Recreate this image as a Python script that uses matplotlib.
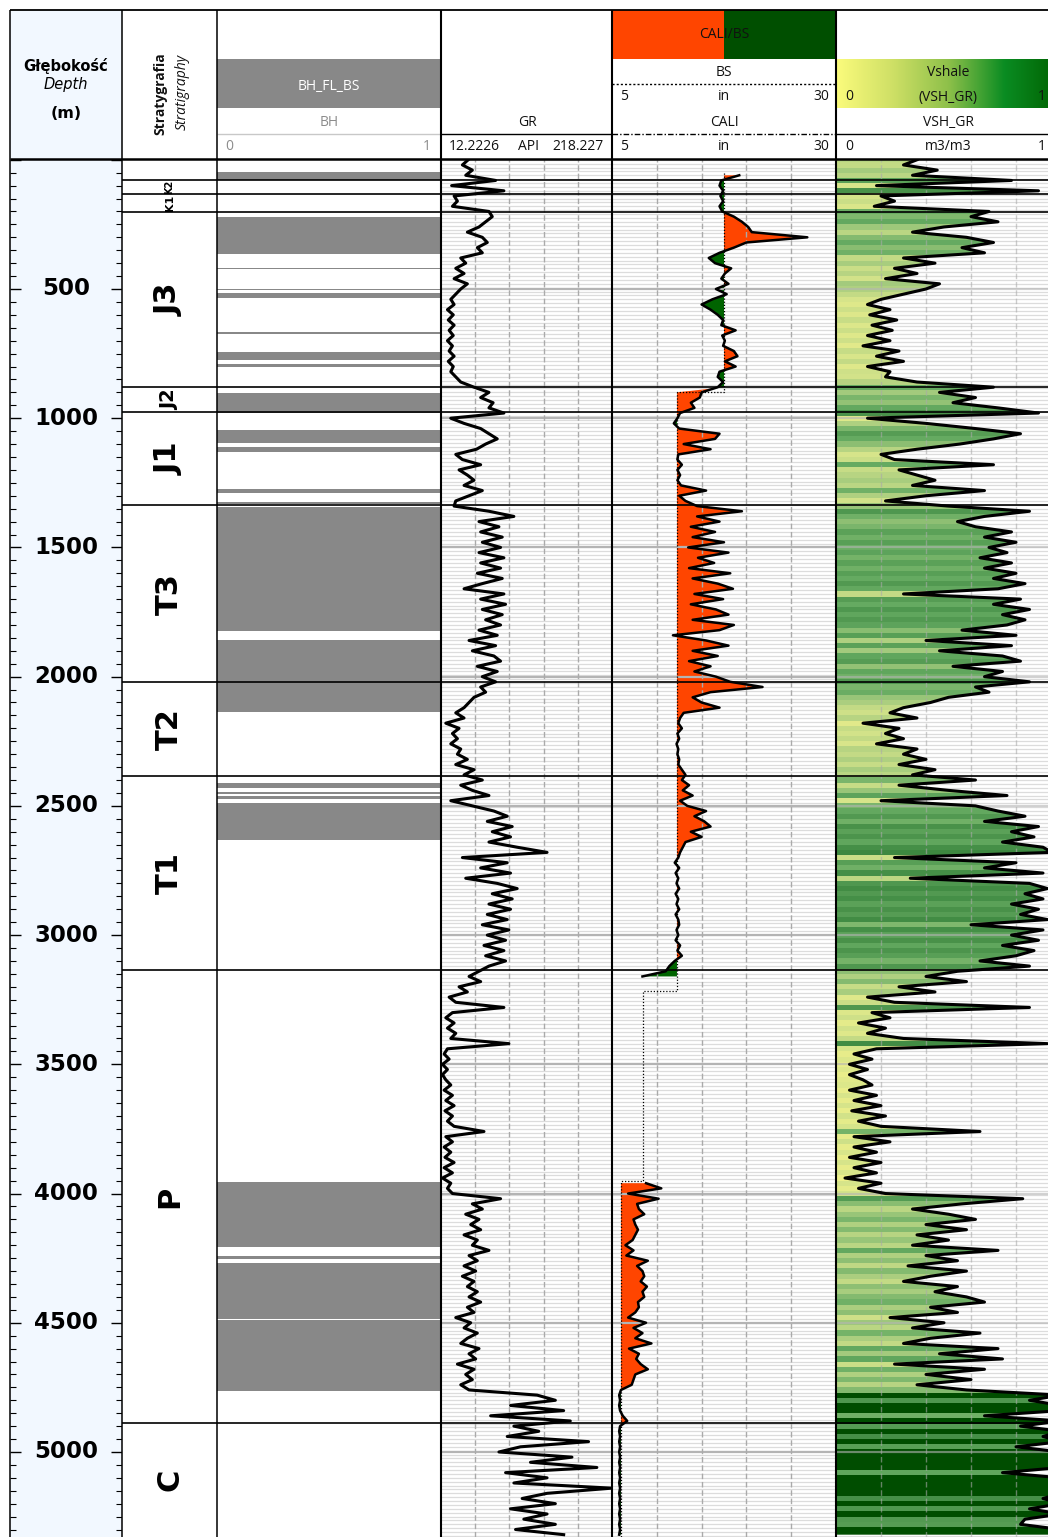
import numpy as np
import matplotlib.pyplot as plt
from matplotlib.colors import LinearSegmentedColormap
from matplotlib.patches import Rectangle
from matplotlib.ticker import MultipleLocator

nan = np.nan

# ---- krzywe, probkowanie co 20 m ----
STEP = 20
gr = [45, 38, 50, 42, 78, 25, 88, 28, 32, 26,
      70, 74, 66, 58, 44, 62, 68, 56, 62, 36,
      42, 30, 40, 28, 44, 36, 30, 24, 28, 20,
      27, 21, 28, 22, 27, 20, 26, 22, 28, 21,
      27, 24, 30, 36, 52, 70, 60, 75, 70, 88,
      24, 40, 60, 70, 80, 66, 55, 30, 38, 60,
      34, 44, 52, 40, 62, 46, 30, 28, 70, 100,
      58, 82, 60, 86, 62, 84, 58, 88, 60, 84,
      56, 86, 62, 40, 88, 60, 90, 62, 86, 66,
      84, 58, 80, 46, 78, 50, 76, 84, 56, 80,
      62, 78, 60, 66, 52, 46, 40, 30, 40, 18,
      34, 26, 32, 24, 36, 32, 44, 30, 52, 40,
      62, 36, 50, 70, 24, 50, 76, 92, 68, 98,
      74, 96, 70, 104, 140, 38, 92, 60, 96, 42,
      80, 104, 74, 98, 70, 96, 68, 92, 62, 94,
      68, 90, 64, 88, 66, 90, 70, 58, 46, 60,
      34, 44, 22, 30, 88, 26, 18, 28, 20, 30,
      24, 94, 20, 16, 22, 14, 20, 14, 18, 24,
      16, 26, 18, 28, 17, 26, 20, 28, 64, 18,
      26, 16, 24, 17, 28, 16, 26, 14, 24, 20,
      26, 84, 50, 62, 42, 58, 48, 60, 40, 56,
      50, 70, 46, 56, 40, 54, 38, 52, 44, 56,
      46, 60, 44, 52, 30, 48, 40, 56, 44, 36,
      58, 46, 54, 32, 52, 42, 50, 36, 46, 128,
      150, 96, 160, 72, 168, 100, 130, 92, 190, 108,
      82, 170, 120, 200, 90, 140, 100, 218, 140, 110,
      150, 96, 140, 112, 150, 102, 160]

cali = [nan, nan, nan, 19.2, 17.2, 17.0, 17.4, 17.1, 17.4, 17.0,
        17.3, 18.6, 19.5, 20.2, 20.6, 26.8, 20.0, 18.6, 17.0, 15.8,
        16.5, 18.3, 17.6, 17.2, 18.0, 16.6, 17.8, 16.2, 15.0, 16.0,
        16.8, 17.4, 17.2, 18.8, 17.3, 17.6, 17.4, 18.6, 19.0, 17.6,
        18.8, 17.0, 16.8, 17.4, 16.8, 15.0, 14.8, 13.8, 14.2, 12.6,
        12.3, 11.9, 12.5, 17.0, 16.5, 13.0, 16.0, 12.4, 12.3, 12.8,
        12.3, 12.6, 12.3, 12.7, 15.5, 12.5, 13.2, 14.5, 19.5, 14.5,
        17.0, 13.8, 16.5, 14.0, 17.5, 13.5, 18.0, 14.6, 16.4, 13.6,
        18.2, 14.0, 16.8, 18.5, 14.2, 17.4, 13.8, 16.6, 18.0, 14.0,
        18.6, 17.0, 11.8, 15.5, 18.0, 14.0, 16.8, 13.6, 16.0, 14.2,
        16.6, 18.2, 21.8, 16.0, 14.0, 15.0, 17.0, 13.0, 12.6, 12.4,
        12.8, 12.3, 12.5, 12.2, 12.4, 12.3, 12.5, 12.4, 12.8, 13.2,
        12.8, 13.6, 12.9, 14.0, 12.6, 13.4, 15.5, 14.2, 15.3, 16.0,
        13.8, 15.0, 13.2, 12.9, 12.6, 12.4, 12.0, 12.5, 12.1, 12.4,
        12.2, 12.5, 12.1, 12.4, 12.2, 12.5, 12.1, 12.4, 12.5, 12.2,
        12.4, 12.1, 12.6, 12.3, 12.8, 12.0, 11.4, 11.0, 8.4, nan,
        nan, nan, nan, nan, nan, nan, nan, nan, nan, nan,
        nan, nan, nan, nan, nan, nan, nan, nan, nan, nan,
        nan, nan, nan, nan, nan, nan, nan, nan, nan, nan,
        nan, nan, nan, nan, nan, nan, nan, nan, 8.8, 10.5,
        6.8, 10.2, 7.8, 8.0, 8.6, 7.4, 7.6, 7.9, 7.6, 7.3,
        6.5, 7.4, 6.6, 9.0, 7.8, 8.4, 8.6, 8.2, 8.9, 8.4,
        8.6, 7.9, 8.0, 7.6, 6.8, 8.8, 7.4, 8.4, 7.6, 9.4,
        6.9, 8.0, 7.7, 8.2, 9.0, 7.6, 7.4, 7.2, 6.0, 5.8,
        5.9, 5.8, 5.9, 6.2, 6.7, 5.9, 5.8, 5.9, 5.8, 5.9,
        5.8, 5.9, 5.8, 5.9, 5.8, 5.9, 5.8, 5.9, 5.8, 5.9,
        5.8, 5.9, 5.8, 5.9, 5.8, 5.9, 5.8]

vsh = [0.36, 0.30, 0.45, 0.34, 0.78, 0.18, 0.90, 0.20, 0.26, 0.17,
       0.68, 0.60, 0.72, 0.48, 0.34, 0.58, 0.70, 0.56, 0.66, 0.30,
       0.44, 0.26, 0.36, 0.22, 0.46, 0.40, 0.30, 0.20, 0.14, 0.24,
       0.15, 0.27, 0.16, 0.25, 0.14, 0.24, 0.12, 0.28, 0.18, 0.30,
       0.14, 0.24, 0.22, 0.36, 0.70, 0.46, 0.62, 0.52, 0.72, 0.90,
       0.14, 0.40, 0.62, 0.82, 0.70, 0.55, 0.36, 0.20, 0.26, 0.70,
       0.28, 0.36, 0.44, 0.34, 0.66, 0.40, 0.22, 0.50, 0.86, 0.66,
       0.54, 0.62, 0.78, 0.66, 0.80, 0.68, 0.76, 0.64, 0.78, 0.66,
       0.80, 0.70, 0.84, 0.72, 0.30, 0.82, 0.70, 0.86, 0.74, 0.84,
       0.76, 0.56, 0.80, 0.40, 0.78, 0.46, 0.74, 0.82, 0.52, 0.74,
       0.66, 0.86, 0.62, 0.68, 0.50, 0.42, 0.30, 0.24, 0.36, 0.12,
       0.28, 0.22, 0.30, 0.18, 0.36, 0.30, 0.40, 0.28, 0.44, 0.34,
       0.62, 0.28, 0.50, 0.76, 0.20, 0.62, 0.72, 0.84, 0.66, 0.90,
       0.78, 0.88, 0.74, 0.92, 0.96, 0.26, 0.80, 0.66, 0.92, 0.33,
       0.86, 0.94, 0.84, 0.92, 0.78, 0.90, 0.82, 0.94, 0.60, 0.92,
       0.78, 0.90, 0.74, 0.88, 0.80, 0.64, 0.86, 0.54, 0.40, 0.58,
       0.28, 0.44, 0.14, 0.26, 0.86, 0.16, 0.24, 0.10, 0.22, 0.14,
       0.30, 0.94, 0.18, 0.08, 0.16, 0.06, 0.14, 0.06, 0.12, 0.16,
       0.06, 0.18, 0.08, 0.20, 0.07, 0.22, 0.10, 0.20, 0.64, 0.08,
       0.24, 0.08, 0.18, 0.06, 0.20, 0.08, 0.18, 0.04, 0.20, 0.10,
       0.22, 0.83, 0.56, 0.34, 0.50, 0.62, 0.40, 0.58, 0.36, 0.50,
       0.34, 0.72, 0.40, 0.54, 0.32, 0.58, 0.42, 0.30, 0.54, 0.44,
       0.58, 0.66, 0.42, 0.54, 0.24, 0.48, 0.34, 0.64, 0.42, 0.30,
       0.72, 0.46, 0.74, 0.26, 0.66, 0.40, 0.60, 0.36, 0.58, 1.0,
       0.86, 1.0, 1.0, 0.66, 1.0, 0.82, 1.0, 0.92, 1.0, 0.80,
       1.0, 1.0, 1.0, 1.0, 0.74, 1.0, 1.0, 1.0, 1.0, 0.92,
       1.0, 0.86, 1.0, 0.84, 0.82, 1.0, 1.0]

depth = np.arange(len(gr)) * STEP

# srednica otworu (BS), odcinki
bs_top = [50, 900, 3215, 3950]
bs_size = [17.5, 12.25, 8.5, 6.0]

# flaga BH_FL_BS = 1
bh_top = [49, 220, 418, 500, 516, 667, 745, 790, 903, 1045, 1111, 1274, 1323,
          1342, 1857, 2411, 2446, 2461, 2488, 3956, 4241, 4268, 4488]
bh_base = [77, 365, 423, 505, 536, 675, 775, 802, 979, 1095, 1130, 1289, 1331,
           1825, 2136, 2430, 2453, 2472, 2631, 4207, 4255, 4484, 4763]

# stratygrafia
strat_tops = [78, 132, 202, 879, 976, 1336, 2021, 2384, 3135, 4888]
strat_names = ['K2', 'K1', 'J3', 'J2', 'J1', 'T3', 'T2', 'T1', 'P', 'C']
strat_fs = [7, 8, 22, 14, 22, 22, 22, 22, 22, 22]

depth_labels = [500, 1000, 1500, 2000, 2500, 3000, 3500, 4000, 4500, 5000]

# ---- uklad ----
W, H = 1048, 1537
X = [10, 122, 217, 441, 612, 836, 1061]
Y_TOP, Y_HDR, Y_BOT = 10, 159, 1537
D_TOP, D_BOT = -3, 5329
BLUE = '#f2f8ff'
HFONT = 'Open Sans'

fig = plt.figure(figsize=(W / 100, H / 100), dpi=100)


def px_box(x0, y0, x1, y1):
    return [x0 / W, 1 - y1 / H, (x1 - x0) / W, (y1 - y0) / H]


def make_track(i, xlim=(0, 1)):
    ax = fig.add_axes(px_box(X[i], Y_HDR, X[i + 1], Y_BOT))
    ax.set_xlim(*xlim)
    ax.set_ylim(D_BOT, D_TOP)
    ax.set_xticks([])
    ax.set_yticks([])
    for s in ax.spines.values():
        s.set_visible(False)
    return ax


def add_grid(ax, ndiv=5, alpha=1.0):
    lo, hi = ax.get_xlim()
    ax.hlines(np.arange(0, D_BOT, 15), lo, hi, color='#dcdcdc', lw=0.9, zorder=0.5)
    ax.hlines(np.arange(500, D_BOT, 500), lo, hi, color='#b4b4b4', lw=1.6,
              zorder=3, alpha=alpha)
    ax.vlines(np.linspace(lo, hi, ndiv + 1)[1:-1], D_BOT, D_TOP, color='#aaaaaa',
              lw=1.0, ls=(0, (4, 2)), zorder=3, alpha=alpha)


def strat_lines(ax):
    lo, hi = ax.get_xlim()
    ax.hlines(strat_tops, lo, hi, color='black', lw=1.2, zorder=6)


# glebokosc
ax_d = fig.add_axes(px_box(X[0], Y_HDR, X[1], Y_BOT))
ax_d.set_facecolor(BLUE)
ax_d.set_xlim(0, 1)
ax_d.set_ylim(D_BOT, D_TOP)
ax_d.set_xticks([])
ax_d.yaxis.set_major_locator(MultipleLocator(500))
ax_d.yaxis.set_minor_locator(MultipleLocator(50))
ax_d.tick_params(axis='y', which='both', direction='in', left=True, right=True,
                 labelleft=False)
ax_d.tick_params(axis='y', which='major', length=8, width=1.0)
ax_d.tick_params(axis='y', which='minor', length=4.5, width=0.8)
for s in ax_d.spines.values():
    s.set_visible(False)
for d in depth_labels:
    ax_d.text(0.5, d, str(d), ha='center', va='center', fontsize=16.5,
              fontweight='bold', family='DejaVu Sans')

# stratygrafia
ax_s = make_track(1)
strat_lines(ax_s)
bases = strat_tops[1:] + [D_BOT]
for t, b, name, fs in zip(strat_tops, bases, strat_names, strat_fs):
    ax_s.text(0.5, (t + b) / 2, name, rotation=90, ha='center', va='center',
              fontsize=fs, fontweight='bold', family='DejaVu Sans')

# BH
ax_b = make_track(2)
ax_b.barh(bh_top, 1, height=np.array(bh_base) - np.array(bh_top), align='edge',
          color='#888888', lw=0)
strat_lines(ax_b)

# GR
ax_g = make_track(3, (12.2226, 218.227))
add_grid(ax_g)
ax_g.plot(gr, depth, color='black', lw=2.2, zorder=4)
strat_lines(ax_g)

# CALI / BS
ax_c = make_track(4, (5, 30))
add_grid(ax_c)
cali_a = np.array(cali)
bs_grid = np.full(len(depth), nan)
for t, v in zip(bs_top, bs_size):
    bs_grid[depth >= t] = v
ok = ~np.isnan(cali_a)
ax_c.fill_betweenx(depth, bs_grid, cali_a, where=ok & (cali_a >= bs_grid),
                   color='#ff4500', lw=0, interpolate=True, zorder=2)
ax_c.fill_betweenx(depth, bs_grid, cali_a, where=ok & (cali_a < bs_grid),
                   color='#006400', lw=0, interpolate=True, zorder=2)
bs_y, bs_x = [], []
for t, b, v in zip(bs_top, bs_top[1:] + [D_BOT], bs_size):
    bs_y += [t, b]
    bs_x += [v, v]
ax_c.plot(bs_x, bs_y, color='black', lw=0.9, ls=(0, (1, 1.5)), zorder=4)
ax_c.plot(cali_a, depth, color='black', lw=1.8, zorder=5)
strat_lines(ax_c)

# Vshale
fill_cmap = LinearSegmentedColormap.from_list('vsh_fill', [
    (0.0, '#f2f28a'), (0.2, '#d6e48a'), (0.45, '#a6cc7e'), (0.7, '#66ab62'),
    (0.85, '#52995150'[:7]), (0.96, '#3f8a42'), (0.985, '#1a661a'),
    (1.0, '#004d00')])
ax_v = make_track(5, (0, 1))
poly = ax_v.fill_betweenx(depth, 0, vsh, color='none', lw=0)
im = ax_v.imshow(np.array(vsh)[:, None], cmap=fill_cmap, vmin=0, vmax=1,
                 aspect='auto', interpolation='nearest', zorder=2,
                 extent=(0, 1, depth[-1] + STEP / 2, depth[0] - STEP / 2))
im.set_clip_path(poly.get_paths()[0], transform=ax_v.transData)
ax_v.set_xlim(0, 1)
ax_v.set_ylim(D_BOT, D_TOP)
add_grid(ax_v, alpha=0.6)
ax_v.plot(vsh, depth, color='black', lw=2.2, zorder=4)
strat_lines(ax_v)

# ---- naglowek i ramki ----
ov = fig.add_axes([0, 0, 1, 1], zorder=10)
ov.set_xlim(0, W)
ov.set_ylim(H, 0)
ov.axis('off')

ov.add_patch(Rectangle((X[0], Y_TOP), X[1] - X[0], Y_HDR - Y_TOP, fc=BLUE, lw=0))
ov.add_patch(Rectangle((X[2], 59), X[3] - X[2], 49, fc='#888888', lw=0))
ov.add_patch(Rectangle((X[4], Y_TOP), 112, 49, fc='#ff4500', lw=0))
ov.add_patch(Rectangle((X[4] + 112, Y_TOP), 112, 49, fc='#004f00', lw=0))
hdr_cmap = LinearSegmentedColormap.from_list('vsh_hdr', [
    (0.0, '#fbfb7c'), (0.25, '#cfe066'), (0.5, '#8ec04a'), (0.75, '#0a8c22'),
    (1.0, '#006000')])
ov.imshow(np.linspace(0, 1, 256)[None, :], cmap=hdr_cmap, aspect='auto',
          extent=(X[5], X[6], 108, 59))
ov.set_xlim(0, W)
ov.set_ylim(H, 0)

ov.hlines(134, X[2], X[3], color='#c8c8c8', lw=1.0)
ov.hlines(134, X[3], X[4], color='black', lw=1.0)
ov.hlines(84, X[4], X[5], color='black', lw=1.0, ls=(0, (1.5, 1.5)))
ov.hlines(134, X[4], X[5], color='black', lw=1.0, ls=(0, (4, 1.5, 1, 1.5)))
ov.hlines(134, X[5], X[6], color='black', lw=1.0)
ov.hlines(Y_TOP, X[0], W, color='black', lw=1.3)
ov.hlines(Y_HDR, X[0], W, color='black', lw=1.8)
ov.vlines(X[:3], Y_TOP, H, color='black', lw=1.1)
ov.vlines(X[3:6], Y_TOP, H, color='black', lw=1.5)

kw = dict(ha='center', va='center', family=HFONT, fontsize=10, color='#111111')
ov.text(66, 66, 'Głębokość', ha='center', va='center', fontsize=10.5,
        fontweight='bold', family='DejaVu Sans')
ov.text(66, 85, 'Depth', ha='center', va='center', fontsize=10.5,
        style='italic', family='DejaVu Sans')
ov.text(66, 113, '(m)', ha='center', va='center', fontsize=11.5,
        fontweight='bold', family='DejaVu Sans')
ov.text(160, 94, 'Stratygrafia', rotation=90, fontweight='bold',
        **{**kw, 'fontsize': 10})
ov.text(182, 92, 'Stratigraphy', rotation=90, style='italic',
        **{**kw, 'fontsize': 10})

ov.text(329, 86, 'BH_FL_BS', **{**kw, 'color': 'white'})
ov.text(329, 123, 'BH', **{**kw, 'color': '#8c8c8c'})
ov.text(225, 147, '0', **{**kw, 'ha': 'left', 'color': '#8c8c8c'})
ov.text(431, 147, '1', **{**kw, 'ha': 'right', 'color': '#8c8c8c'})

ov.text(527, 123, 'GR', **kw)
ov.text(449, 147, '12.2226', **{**kw, 'ha': 'left'})
ov.text(528, 147, 'API', **kw)
ov.text(604, 147, '218.227', **{**kw, 'ha': 'right'})

ov.text(724, 35, 'CALI/BS', **kw)
ov.text(724, 72, 'BS', **kw)
ov.text(724, 123, 'CALI', **kw)
for yy in (97, 147):
    ov.text(620, yy, '5', **{**kw, 'ha': 'left'})
    ov.text(724, yy, 'in', **kw)
    ov.text(829, yy, '30', **{**kw, 'ha': 'right'})

ov.text(948, 72, 'Vshale', **kw)
ov.text(948, 97, '(VSH_GR)', **kw)
ov.text(948, 123, 'VSH_GR', **kw)
ov.text(948, 147, 'm3/m3', **kw)
for yy in (97, 147):
    ov.text(845, yy, '0', **{**kw, 'ha': 'left'})
    ov.text(1046, yy, '1', **{**kw, 'ha': 'right'})

fig.savefig('out.png', dpi=100)
